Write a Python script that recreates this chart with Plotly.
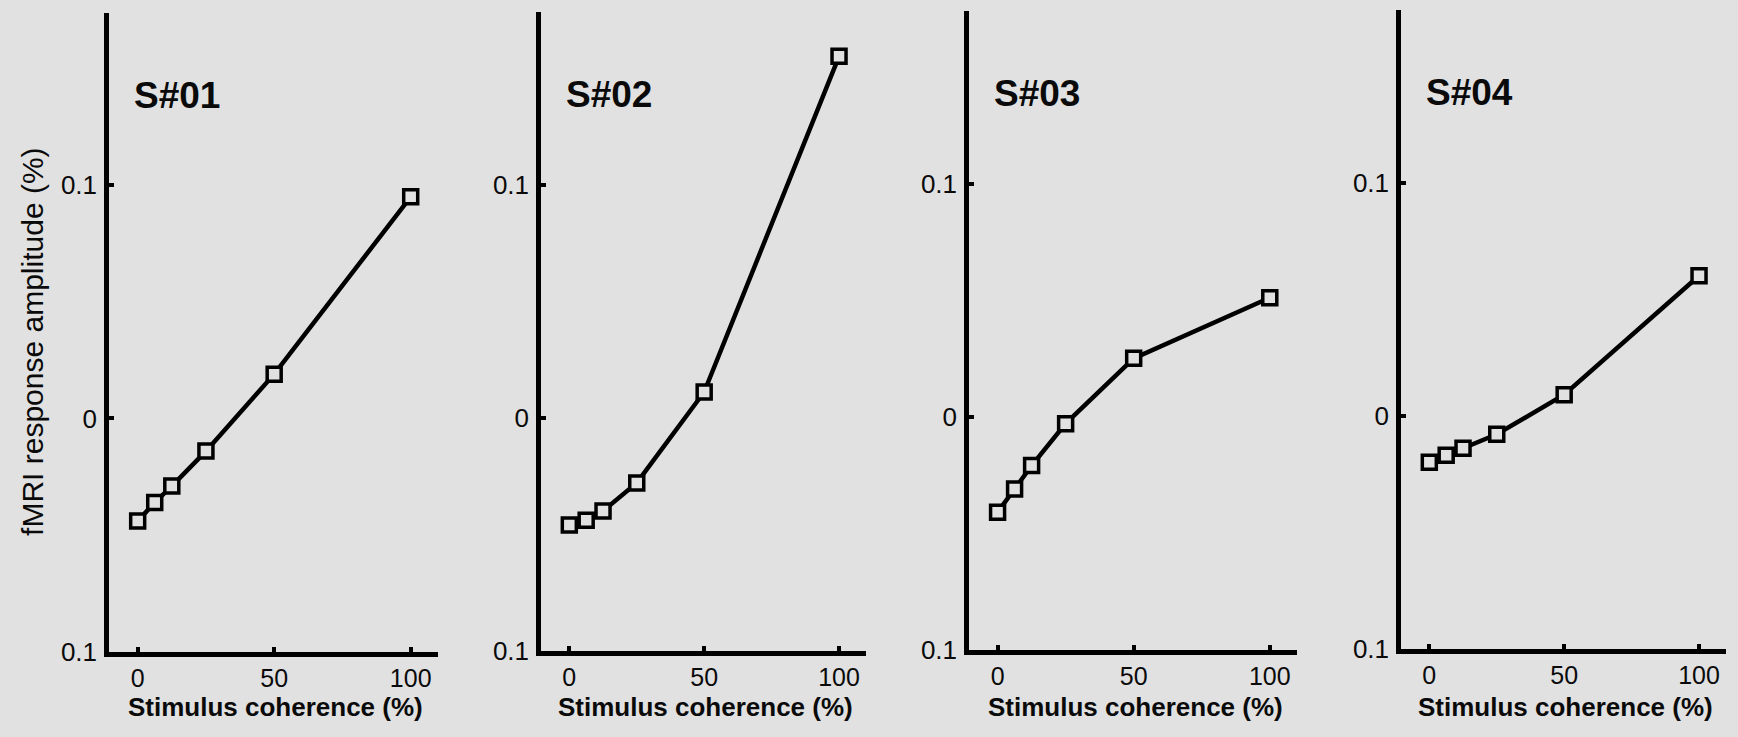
import plotly.graph_objects as go

# ---- data ----
coherence = [0, 6.25, 12.5, 25, 50, 100]
subjects = ["S#01", "S#02", "S#03", "S#04"]
s01 = [-0.044, -0.036, -0.029, -0.014, 0.019, 0.095]
s02 = [-0.046, -0.044, -0.040, -0.028, 0.011, 0.155]
s03 = [-0.041, -0.031, -0.021, -0.003, 0.025, 0.051]
s04 = [-0.020, -0.017, -0.014, -0.008, 0.009, 0.060]
series = [s01, s02, s03, s04]

y_tickvals = [-0.1, 0, 0.1]
y_ticktext = ["0.1", "0", "0.1"]
x_tickvals = [0, 50, 100]
x_ticktext = ["0", "50", "100"]
x_title = "Stimulus coherence (%)"
y_title = "fMRI response amplitude (%)"

W, H = 1738, 737
BG = "rgb(225,225,225)"
FONT = "Liberation Sans, Arial, Helvetica, sans-serif"
TXT = "#0a0a0a"
VS = 1 / 0.977  # vertical correction observed in the rendered page

# panel geometry (pixels)
lefts = [109, 541, 969, 1401]
rights = [438, 866, 1297, 1726]
tops = [12.5 * VS, 12 * VS, 11 * VS, 10 * VS]
bottoms = [650 * VS, 649 * VS, 648 * VS, 647 * VS]

fig = go.Figure()
for i, (name, vals) in enumerate(zip(subjects, series)):
    xa = "x" if i == 0 else f"x{i+1}"
    ya = "y" if i == 0 else f"y{i+1}"
    fig.add_trace(go.Scatter(
        x=coherence, y=vals, xaxis=xa, yaxis=ya, mode="lines+markers",
        line=dict(color="black", width=4.5),
        marker=dict(symbol="square", size=14, color=BG,
                    line=dict(color="black", width=3.5)),
        showlegend=False, hoverinfo="skip"))
    axkey = "" if i == 0 else str(i + 1)
    fig.update_layout(**{
        f"xaxis{axkey}": dict(
            domain=[lefts[i] / W, rights[i] / W], anchor=ya,
            range=[-10.5, 110], showgrid=False, zeroline=False,
            showline=True, linecolor="black", linewidth=4.5,
            ticks="inside", ticklen=5, tickwidth=3.5, tickcolor="black",
            tickvals=x_tickvals, ticktext=x_ticktext, ticklabelstandoff=0,
            tickfont=dict(family=FONT, size=25, color=TXT),
        ),
        f"yaxis{axkey}": dict(
            domain=[(H - bottoms[i]) / H, (H - tops[i]) / H], anchor=xa,
            range=[-0.1, 0.174], showgrid=False, zeroline=False,
            showline=True, linecolor="black", linewidth=4.5,
            ticks="inside", ticklen=5, tickwidth=3.5, tickcolor="black",
            tickvals=y_tickvals, ticktext=y_ticktext, ticklabelstandoff=2,
            tickfont=dict(family=FONT, size=26, color=TXT),
        ),
    })
    fig.add_annotation(
        x=-2, y=0.1385, xref=xa, yref=ya, text=name, showarrow=False,
        xanchor="left", yanchor="middle",
        font=dict(family=FONT, size=37, color=TXT, weight="bold"))
    # x-axis title
    fig.add_annotation(
        x=((lefts[i] + rights[i]) / 2 + 2) / W, y=(H - 722) / H,
        xref="paper", yref="paper", text=x_title, showarrow=False,
        xanchor="center", yanchor="middle",
        font=dict(family=FONT, size=26, color=TXT, weight="bold"))

fig.add_annotation(
    x=33 / W, y=(H - 341 * VS) / H, xref="paper", yref="paper",
    text=y_title, textangle=-90, showarrow=False,
    xanchor="center", yanchor="middle",
    font=dict(family=FONT, size=30, color=TXT))

fig.update_layout(
    width=W, height=H, autosize=False, margin=dict(l=0, r=0, t=0, b=0),
    paper_bgcolor=BG, plot_bgcolor=BG,
)
fig.write_html("out.html", config={"responsive": False})
